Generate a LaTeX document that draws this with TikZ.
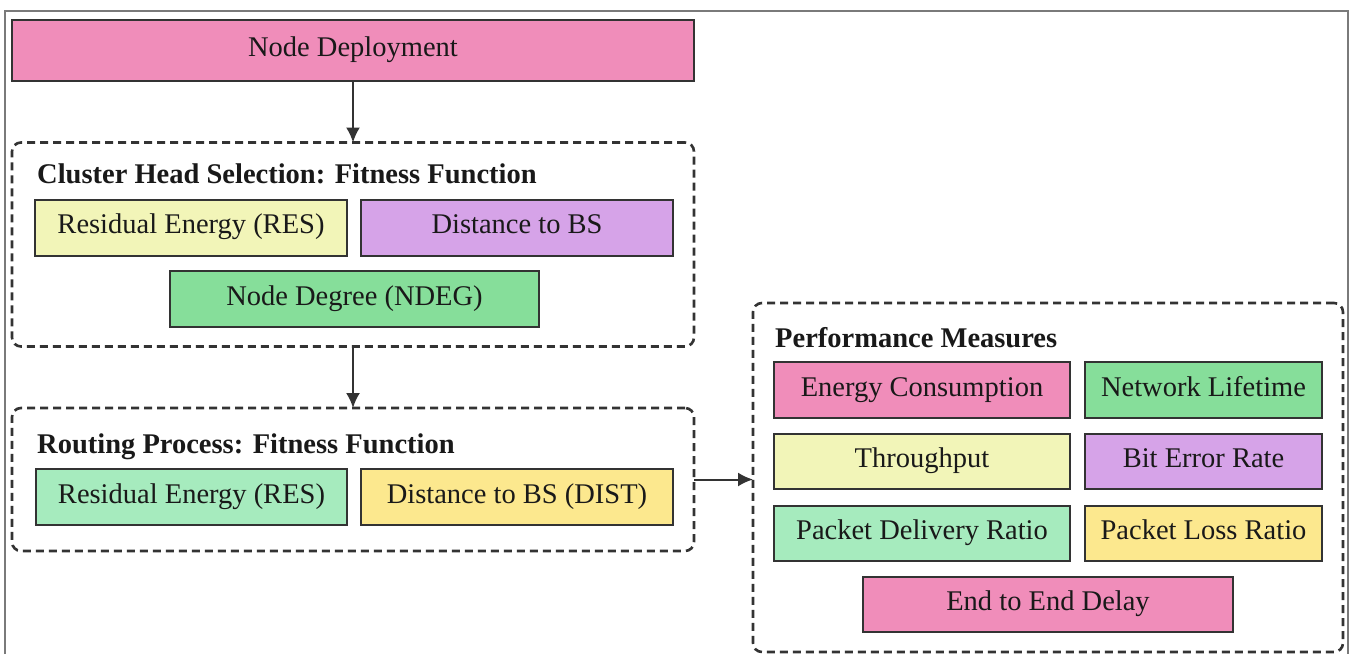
\documentclass[tikz,border=0pt]{standalone}
\usepackage{fontspec}
\setmainfont{Liberation Serif}
\usetikzlibrary{arrows.meta}

\definecolor{cpink}{HTML}{F08DBA}
\definecolor{cpaleyellow}{HTML}{F2F5B8}
\definecolor{cpurple}{HTML}{D6A3E8}
\definecolor{cgreen}{HTML}{86DE9A}
\definecolor{cpalegreen}{HTML}{A6EBBE}
\definecolor{cyellow}{HTML}{FCE88E}
\definecolor{cline}{HTML}{333333}
\definecolor{cframe}{HTML}{7A7A7A}

\tikzset{
  box/.style={draw=cline, line width=2pt, inner sep=0pt, outer sep=0pt,
    text=black!90, font=\fontsize{28.5}{34}\selectfont,
    text height=20pt, text depth=8pt},
  group/.style={draw=cline, line width=2.6pt, dash pattern=on 8pt off 5pt,
    rounded corners=9pt, inner sep=0pt, outer sep=0pt},
  grouptitle/.style={anchor=base west, inner sep=0pt, text=black!90,
    font=\fontsize{28.5}{34}\selectfont\bfseries},
  flow/.style={draw=cline, line width=2pt, -{Latex[length=15pt,width=14pt]}},
}

\begin{document}
\begin{tikzpicture}[x=1pt, y=-1pt]
\useasboundingbox (0,0) rectangle (1351,654);
\fill[white] (0,0) rectangle (1351,654);

% outer frame (bottom edge lies below the page)
\draw[cframe, line width=2pt] (5,654) -- (5,11) -- (1348,11) -- (1348,654);

% node deployment
\node[box, fill=cpink, minimum width=682pt, minimum height=61pt] (nd) at (353,50.5) {Node Deployment};

% cluster head selection group
\node[group, minimum width=682pt, minimum height=204pt] (chs) at (353,244.5) {};
\node[grouptitle] (chst) at (37,183) {Cluster Head Selection: Fitness Function};
\node[box, fill=cpaleyellow, minimum width=312pt, minimum height=56pt] (res1) at (191,227.5) {Residual Energy (RES)};
\node[box, fill=cpurple, minimum width=312pt, minimum height=56pt] (dbs) at (517,227.5) {Distance to BS};
\node[box, fill=cgreen, minimum width=369pt, minimum height=56pt] (ndeg) at (354.5,299) {Node Degree (NDEG)};

% routing group
\node[group, minimum width=682pt, minimum height=143pt] (rp) at (353,479.5) {};
\node[grouptitle] (rpt) at (37,453) {Routing Process: Fitness Function};
\node[box, fill=cpalegreen, minimum width=311pt, minimum height=56pt] (res2) at (191.5,497) {Residual Energy (RES)};
\node[box, fill=cyellow, minimum width=312pt, minimum height=56pt] (dist) at (517,497) {Distance to BS (DIST)};

% performance measures group
\node[group, minimum width=590pt, minimum height=349pt] (pm) at (1048,477.5) {};
\node[grouptitle] (pmt) at (775,347) {Performance Measures};
\node[box, fill=cpink, minimum width=296pt, minimum height=56pt] (ec) at (922,390) {Energy Consumption};
\node[box, fill=cgreen, minimum width=237pt, minimum height=56pt] (nl) at (1203.5,390) {Network Lifetime};
\node[box, fill=cpaleyellow, minimum width=296pt, minimum height=55pt] (tp) at (922,461.5) {Throughput};
\node[box, fill=cpurple, minimum width=237pt, minimum height=55pt] (ber) at (1203.5,461.5) {Bit Error Rate};
\node[box, fill=cpalegreen, minimum width=296pt, minimum height=55pt] (pdr) at (922,533.5) {Packet Delivery Ratio};
\node[box, fill=cyellow, minimum width=237pt, minimum height=55pt] (plr) at (1203.5,533.5) {Packet Loss Ratio};
\node[box, fill=cpink, minimum width=370pt, minimum height=55pt] (e2e) at (1048,604.5) {End to End Delay};

% connectors
\draw[flow] (nd.south) -- (chs.north);
\draw[flow] (chs.south) -- (rp.north);
\draw[flow] (rp.east) -- (rp.east -| pm.west);
\end{tikzpicture}
\end{document}
